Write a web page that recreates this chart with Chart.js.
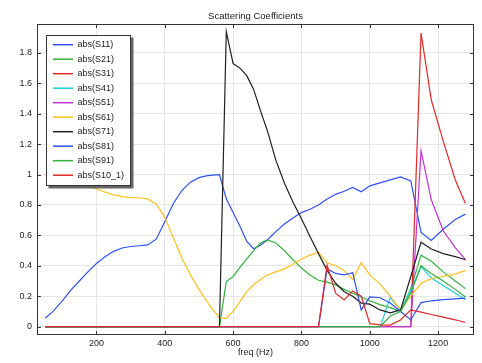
<!DOCTYPE html>
<html>
<head>
<meta charset="utf-8">
<script src="https://cdn.jsdelivr.net/npm/chart.js@4.4.0/dist/chart.umd.min.js"></script>
<style>
  html, body { margin: 0; padding: 0; background: #fff; }
</style>
</head>
<body>
<canvas id="canvas" width="482" height="363"></canvas>
<script>
// frequencies (Hz)
var freq = [50, 75, 100, 125, 150, 175, 200, 225, 250, 275, 300, 325, 350, 375, 400, 425, 450, 475, 500, 525, 550,
            560, 580, 600, 620, 640, 660, 680, 700, 725, 750, 775, 800, 825, 850, 875, 900, 925, 950, 975, 1000,
            1030, 1060, 1090, 1120, 1150, 1180, 1215, 1250, 1280];

var s11 = [0.055, 0.105, 0.17, 0.24, 0.30, 0.36, 0.415, 0.46, 0.495, 0.517, 0.527, 0.532, 0.537, 0.575, 0.69, 0.81, 0.895, 0.95, 0.98, 0.993, 0.998,
           1.0, 0.84, 0.75, 0.66, 0.56, 0.512, 0.535, 0.57, 0.625, 0.675, 0.715, 0.75, 0.772, 0.80, 0.84, 0.87, 0.89, 0.915, 0.887, 0.926,
           0.945, 0.965, 0.985, 0.958, 0.62, 0.566, 0.64, 0.705, 0.74];
var s21 = [0, 0, 0, 0, 0, 0, 0, 0, 0, 0, 0, 0, 0, 0, 0, 0, 0, 0, 0, 0, 0,
           0, 0.296, 0.33, 0.39, 0.445, 0.50, 0.55, 0.57, 0.55, 0.50, 0.44, 0.385, 0.34, 0.305, 0.293, 0.275, 0.245, 0.22, 0.195, 0.17,
           0.145, 0.125, 0.10, 0.25, 0.47, 0.43, 0.36, 0.30, 0.25];
var s31 = [0, 0, 0, 0, 0, 0, 0, 0, 0, 0, 0, 0, 0, 0, 0, 0, 0, 0, 0, 0, 0,
           0, 0, 0, 0, 0, 0, 0, 0, 0, 0, 0, 0, 0, 0, 0, 0, 0, 0, 0, 0,
           0, 0, 0, 0, 1.93, 1.49, 1.22, 0.966, 0.81];
var s41 = [0, 0, 0, 0, 0, 0, 0, 0, 0, 0, 0, 0, 0, 0, 0, 0, 0, 0, 0, 0, 0,
           0, 0, 0, 0, 0, 0, 0, 0, 0, 0, 0, 0, 0, 0, 0, 0, 0, 0, 0, 0,
           0, 0.19, 0.11, 0.24, 0.395, 0.32, 0.27, 0.22, 0.176];
var s51 = [0, 0, 0, 0, 0, 0, 0, 0, 0, 0, 0, 0, 0, 0, 0, 0, 0, 0, 0, 0, 0,
           0, 0, 0, 0, 0, 0, 0, 0, 0, 0, 0, 0, 0, 0, 0, 0, 0, 0, 0, 0,
           0, 0, 0, 0, 1.157, 0.834, 0.63, 0.52, 0.44];
var s61 = [1.0, 0.985, 0.97, 0.955, 0.94, 0.925, 0.905, 0.885, 0.866, 0.855, 0.848, 0.846, 0.84, 0.805, 0.72, 0.585, 0.45, 0.34, 0.245, 0.16, 0.085,
           0.056, 0.055, 0.10, 0.165, 0.23, 0.275, 0.31, 0.34, 0.36, 0.38, 0.41, 0.445, 0.47, 0.49, 0.42, 0.40, 0.37, 0.31, 0.42, 0.34,
           0.28, 0.20, 0.11, 0.20, 0.285, 0.315, 0.33, 0.345, 0.37];
var s71 = [0, 0, 0, 0, 0, 0, 0, 0, 0, 0, 0, 0, 0, 0, 0, 0, 0, 0, 0, 0, 0,
           0, 1.94, 1.73, 1.70, 1.65, 1.56, 1.42, 1.29, 1.095, 0.945, 0.82, 0.71, 0.593, 0.48, 0.37, 0.285, 0.23, 0.2, 0.155, 0.148,
           0.11, 0.09, 0.11, 0.33, 0.555, 0.51, 0.48, 0.46, 0.44];
var s81 = [0, 0, 0, 0, 0, 0, 0, 0, 0, 0, 0, 0, 0, 0, 0, 0, 0, 0, 0, 0, 0,
           0, 0, 0, 0, 0, 0, 0, 0, 0, 0, 0, 0, 0, 0, 0.38, 0.35, 0.34, 0.355, 0.11, 0.195,
           0.19, 0.155, 0.10, 0.044, 0.158, 0.17, 0.178, 0.183, 0.187];
var s91 = [0, 0, 0, 0, 0, 0, 0, 0, 0, 0, 0, 0, 0, 0, 0, 0, 0, 0, 0, 0, 0,
           0, 0, 0, 0, 0, 0, 0, 0, 0, 0, 0, 0, 0, 0, 0, 0, 0, 0, 0, 0,
           0, 0.07, 0.10, 0.22, 0.40, 0.35, 0.30, 0.245, 0.195];
var s10_1 = [0, 0, 0, 0, 0, 0, 0, 0, 0, 0, 0, 0, 0, 0, 0, 0, 0, 0, 0, 0, 0,
             0, 0, 0, 0, 0, 0, 0, 0, 0, 0, 0, 0, 0, 0, 0.405, 0.22, 0.176, 0.235, 0.2, 0.02,
             0.012, 0.01, 0.044, 0.11, 0.095, 0.08, 0.063, 0.045, 0.027];

var names = ['abs(S11)', 'abs(S21)', 'abs(S31)', 'abs(S41)', 'abs(S51)', 'abs(S61)', 'abs(S71)', 'abs(S81)', 'abs(S91)', 'abs(S10_1)'];
var series = [s11, s21, s31, s41, s51, s61, s71, s81, s91, s10_1];
var colors = ['#3050f8', '#33b040', '#e02828', '#20d0d8', '#c030d0', '#ffc020', '#202020', '#3050f8', '#33b040', '#e02828'];

var xTicks = [200, 400, 600, 800, 1000, 1200];
var yTicks = [0, 0.2, 0.4, 0.6, 0.8, 1, 1.2, 1.4, 1.6, 1.8];

var FONT = '"Liberation Sans", Arial, sans-serif';

var datasets = series.map(function (s, i) {
  return {
    label: names[i],
    data: freq.map(function (f, j) { return { x: f, y: s[j] }; }),
    borderColor: colors[i],
    backgroundColor: colors[i],
    borderWidth: 1.2,
    pointRadius: 0,
    fill: false,
    tension: 0,
    order: series.length - i
  };
});

// frame, inner ticks, title and legend drawn on top
var decor = {
  id: 'decor',
  afterDraw: function (chart) {
    var ctx = chart.ctx, a = chart.chartArea;
    var xs = chart.scales.x, ys = chart.scales.y;
    ctx.save();
    ctx.strokeStyle = '#333';
    ctx.lineWidth = 1;
    ctx.strokeRect(a.left + 0.5, a.top + 0.5, a.right - a.left - 1, a.bottom - a.top - 1);
    ctx.beginPath();
    xTicks.forEach(function (v) {
      var px = Math.round(xs.getPixelForValue(v)) + 0.5;
      ctx.moveTo(px, a.top); ctx.lineTo(px, a.top + 4);
      ctx.moveTo(px, a.bottom); ctx.lineTo(px, a.bottom - 4);
    });
    yTicks.forEach(function (v) {
      var py = Math.round(ys.getPixelForValue(v)) + 0.5;
      ctx.moveTo(a.left, py); ctx.lineTo(a.left + 4, py);
      ctx.moveTo(a.right, py); ctx.lineTo(a.right - 4, py);
    });
    ctx.stroke();

    ctx.fillStyle = '#222';
    ctx.font = '9.5px ' + FONT;
    ctx.textAlign = 'center';
    ctx.textBaseline = 'middle';
    ctx.fillText('Scattering Coefficients', (a.left + a.right) / 2, 16.5);

    // legend box
    var lx = 46.5, ly = 35.5, lw = 84, lh = 150;
    ctx.fillStyle = '#666';
    ctx.fillRect(lx + 2, ly + 2, lw + 1, lh + 1);
    ctx.fillStyle = '#fff';
    ctx.fillRect(lx, ly, lw, lh);
    ctx.strokeStyle = '#333';
    ctx.lineWidth = 1;
    ctx.strokeRect(lx, ly, lw, lh);
    ctx.font = '9px ' + FONT;
    ctx.textAlign = 'left';
    names.forEach(function (n, i) {
      var y = 44.7 + i * 14.5;
      ctx.strokeStyle = colors[i];
      ctx.lineWidth = 1.5;
      ctx.beginPath();
      ctx.moveTo(53, y); ctx.lineTo(73, y);
      ctx.stroke();
      ctx.fillStyle = '#222';
      ctx.fillText(n, 77.5, y);
    });
    ctx.restore();
  }
};

var config = {
  type: 'line',
  data: { datasets: datasets },
  options: {
    responsive: false,
    animation: false,
    layout: { padding: { left: 0, right: 8, top: 24, bottom: 0 } },
    plugins: {
      legend: { display: false },
      tooltip: { enabled: false },
      title: { display: false }
    },
    scales: {
      x: {
        type: 'linear',
        min: 26,
        max: 1305,
        afterBuildTicks: function (s) { s.ticks = xTicks.map(function (v) { return { value: v }; }); },
        afterFit: function (s) { s.height = 28; },
        grid: { color: '#e6e6e6', drawTicks: false },
        border: { display: false },
        ticks: {
          padding: 3, color: '#222', maxRotation: 0, autoSkip: false,
          font: { family: FONT, size: 9 },
          callback: function (v) { return String(v); }
        },
        title: {
          display: true, text: 'freq (Hz)', color: '#222',
          font: { family: FONT, size: 9 },
          padding: { top: 0, bottom: 5.5 }
        }
      },
      y: {
        type: 'linear',
        min: -0.055,
        max: 1.99,
        afterBuildTicks: function (s) { s.ticks = yTicks.map(function (v) { return { value: v }; }); },
        afterFit: function (s) { s.width = 37; },
        grid: { color: '#e6e6e6', drawTicks: false },
        border: { display: false },
        ticks: {
          padding: 5, color: '#222', autoSkip: false,
          font: { family: FONT, size: 9 },
          callback: function (v) { return String(v); }
        }
      }
    }
  },
  plugins: [decor]
};

window.onload = function () {
  var ctx = document.getElementById('canvas').getContext('2d');
  window.myLine = new Chart(ctx, config);
};
</script>
</body>
</html>
